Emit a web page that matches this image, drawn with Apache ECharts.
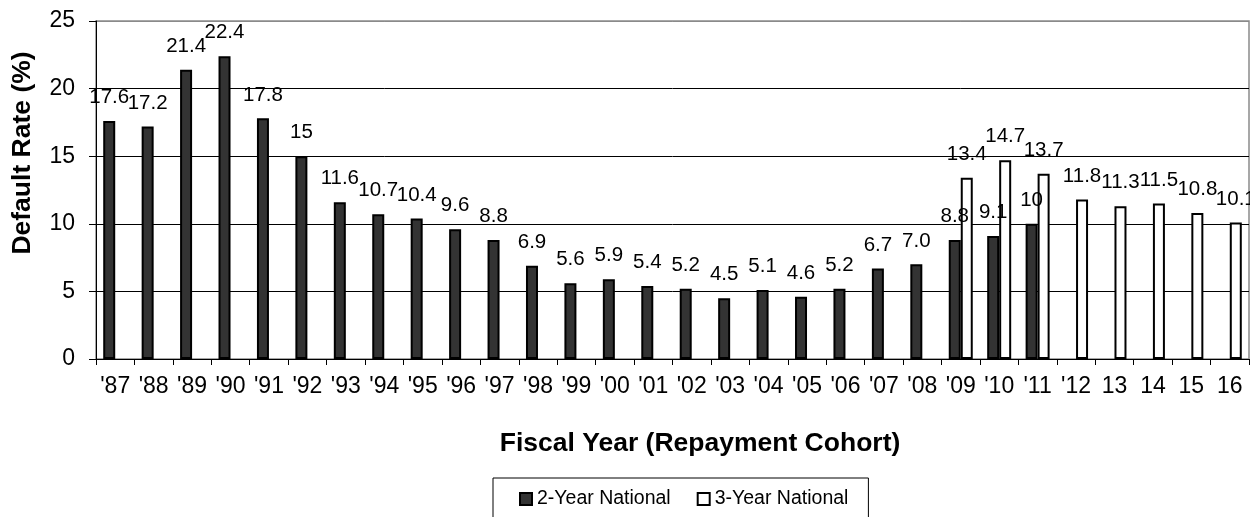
<!DOCTYPE html>
<html>
<head>
<meta charset="utf-8">
<title>Default Rate by Fiscal Year</title>
<script src="https://cdn.jsdelivr.net/npm/echarts@6/dist/echarts.min.js"></script>
<style>
  html, body { margin: 0; padding: 0; background: #fff; }
  #chart { width: 1250px; height: 517px; }
</style>
</head>
<body>
<div id="chart"></div>
<script>
// Fiscal years (repayment cohorts)
const categories = ["'87", "'88", "'89", "'90", "'91", "'92", "'93", "'94", "'95", "'96",
  "'97", "'98", "'99", "'00", "'01", "'02", "'03", "'04", "'05", "'06",
  "'07", "'08", "'09", "'10", "'11", "'12", "13", "14", "15", "16"];

// Published rates, kept as printed so the label text matches the bar value
const twoYearRates = ['17.6', '17.2', '21.4', '22.4', '17.8', '15', '11.6', '10.7', '10.4', '9.6',
  '8.8', '6.9', '5.6', '5.9', '5.4', '5.2', '4.5', '5.1', '4.6', '5.2',
  '6.7', '7.0', '8.8', '9.1', '10', null, null, null, null, null];

const threeYearRates = [null, null, null, null, null, null, null, null, null, null,
  null, null, null, null, null, null, null, null, null, null,
  null, null, '13.4', '14.7', '13.7', '11.8', '11.3', '11.5', '10.8', '10.1'];

const yTicks = [0, 5, 10, 15, 20, 25];

const FONT = "'Liberation Sans', Arial, Helvetica, sans-serif";

function toPoints(list) {
  return list.map(v => v === null ? null : { value: Number(v), text: v });
}

const chart = echarts.init(document.getElementById('chart'), null, { renderer: 'canvas' });

const barLabel = {
  show: true,
  position: 'top',
  distance: 13,
  color: '#000',
  fontFamily: FONT,
  fontSize: 20.5,
  formatter: p => p.data.text
};

chart.setOption({
  animation: false,
  backgroundColor: '#fff',
  textStyle: { fontFamily: FONT },
  grid: {
    left: 96, right: 1, top: 21, bottom: 158,
    show: true, borderColor: '#8a8a8a', borderWidth: 1.5, backgroundColor: 'transparent'
  },
  legend: {
    left: 493, top: 478,
    padding: [11, 20, 11, 26],
    borderColor: '#000', borderWidth: 1,
    itemWidth: 12, itemHeight: 12, itemGap: 26,
    icon: 'rect',
    textStyle: { fontFamily: FONT, fontSize: 19.5, color: '#000' },
    data: [
      { name: '2-Year National', itemStyle: { color: '#333333', borderColor: '#000', borderWidth: 2 } },
      { name: '3-Year National', itemStyle: { color: '#ffffff', borderColor: '#000', borderWidth: 2 } }
    ]
  },
  xAxis: {
    type: 'category',
    data: categories,
    axisLine: { lineStyle: { color: '#000', width: 1 } },
    axisTick: { show: true, length: 6, lineStyle: { color: '#000' } },
    axisLabel: { color: '#000', fontFamily: FONT, fontSize: 23, margin: 16, interval: 0 },
    splitLine: { show: false }
  },
  yAxis: {
    type: 'value',
    min: yTicks[0], max: yTicks[yTicks.length - 1], interval: 5,
    axisLine: { show: true, lineStyle: { color: '#000', width: 1 } },
    axisTick: { show: true, length: 7, lineStyle: { color: '#000' } },
    axisLabel: { color: '#000', fontFamily: FONT, fontSize: 23, margin: 21 },
    splitLine: { show: true, lineStyle: { color: ['#000', '#000', '#000', '#000', '#000', '#8a8a8a'], width: 1 } }
  },
  series: [
    {
      name: '2-Year National',
      type: 'bar',
      data: toPoints(twoYearRates),
      barWidth: 12,
      barGap: '0%',
      itemStyle: { color: '#333333', borderColor: '#000', borderWidth: 2 },
      label: barLabel
    },
    {
      name: '3-Year National',
      type: 'bar',
      data: toPoints(threeYearRates),
      barWidth: 12,
      barGap: '0%',
      itemStyle: { color: '#ffffff', borderColor: '#000', borderWidth: 2 },
      label: barLabel
    }
  ],
  graphic: [
    {
      type: 'text',
      x: 23, y: 153, rotation: Math.PI / 2,
      style: {
        text: 'Default Rate (%)', fill: '#000',
        font: "bold 26.5px 'Liberation Sans', Arial, sans-serif",
        align: 'center', verticalAlign: 'middle'
      }
    },
    {
      type: 'text',
      x: 700, y: 444,
      style: {
        text: 'Fiscal Year (Repayment Cohort)', fill: '#000',
        font: "bold 26.5px 'Liberation Sans', Arial, sans-serif",
        align: 'center', verticalAlign: 'middle'
      }
    }
  ]
});
</script>
</body>
</html>
